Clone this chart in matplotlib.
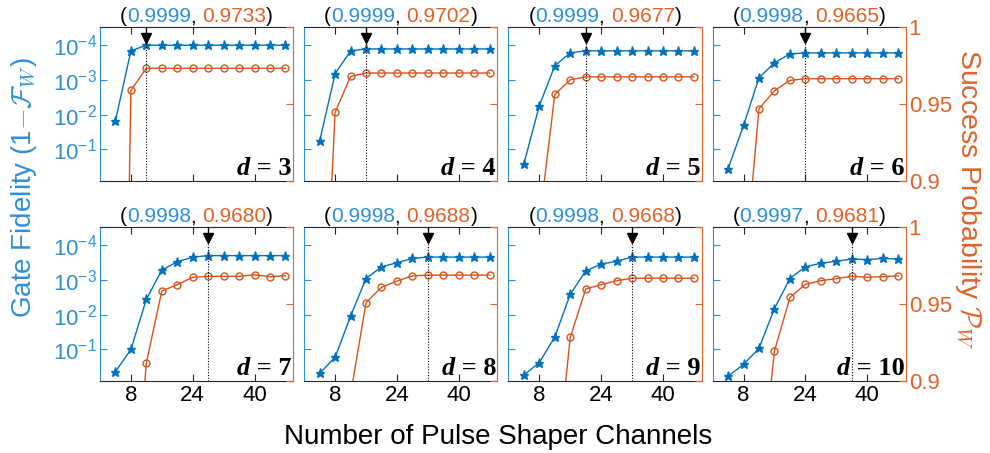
import matplotlib.pyplot as plt
import matplotlib.transforms as mtransforms
from matplotlib.offsetbox import TextArea, HPacker, AnchoredOffsetbox
from matplotlib.ticker import NullLocator

plt.rcParams['font.family'] = ['Liberation Sans', 'DejaVu Sans']
plt.rcParams['mathtext.fontset'] = 'custom'
plt.rcParams['mathtext.rm'] = 'Liberation Sans'
plt.rcParams['mathtext.it'] = 'Liberation Sans:italic'
plt.rcParams['mathtext.bf'] = 'Liberation Sans:bold'

# cores (estilo MATLAB)
azul = '#0072BD'
azul_txt = '#2F8FD5'
laranja = '#D95319'
laranja_txt = '#E0622A'
cinza = '#262626'

# dados
canais = [4, 8, 12, 16, 20, 24, 28, 32, 36, 40, 44, 48]
dims = [3, 4, 5, 6, 7, 8, 9, 10]

infid_d3 = [1.5e-2, 1.45e-4, 1e-4, 1e-4, 1e-4, 1e-4, 1e-4, 1e-4, 1e-4, 1e-4, 1e-4, 1e-4]
infid_d4 = [5.7e-2, 6.6e-4, 1.45e-4, 1.28e-4, 1.28e-4, 1.28e-4, 1.28e-4, 1.28e-4, 1.28e-4, 1.28e-4, 1.28e-4, 1.28e-4]
infid_d5 = [0.26, 5.5e-3, 3.9e-4, 1.66e-4, 1.45e-4, 1.45e-4, 1.45e-4, 1.45e-4, 1.45e-4, 1.45e-4, 1.45e-4, 1.45e-4]
infid_d6 = [0.36, 2.04e-2, 8.6e-4, 3.2e-4, 1.78e-4, 1.66e-4, 1.66e-4, 1.66e-4, 1.66e-4, 1.66e-4, 1.66e-4, 1.66e-4]
infid_d7 = [0.44, 0.1, 3.6e-3, 5.2e-4, 3.0e-4, 2.2e-4, 2.0e-4, 2.0e-4, 2.0e-4, 2.0e-4, 2.0e-4, 2.0e-4]
infid_d8 = [0.49, 0.17, 1.1e-2, 9.1e-4, 4.2e-4, 3.2e-4, 2.4e-4, 2.2e-4, 2.2e-4, 2.2e-4, 2.2e-4, 2.2e-4]
infid_d9 = [0.55, 0.24, 4.4e-2, 2.6e-3, 5.5e-4, 3.5e-4, 2.9e-4, 2.2e-4, 2.2e-4, 2.2e-4, 2.2e-4, 2.2e-4]
infid_d10 = [0.59, 0.27, 9.3e-2, 6.7e-3, 9.1e-4, 4.2e-4, 3.3e-4, 2.9e-4, 2.5e-4, 2.6e-4, 2.4e-4, 2.5e-4]

prob_d3 = [0.37, 0.9589, 0.9733, 0.9733, 0.9733, 0.9733, 0.9733, 0.9733, 0.9733, 0.9733, 0.9733, 0.9733]
prob_d4 = [0.737, 0.9446, 0.968, 0.9702, 0.9702, 0.9702, 0.9702, 0.9702, 0.9702, 0.9702, 0.9702, 0.9702]
prob_d5 = [0.62, 0.873, 0.9563, 0.9658, 0.9677, 0.9677, 0.9677, 0.9677, 0.9677, 0.9677, 0.9677, 0.9677]
prob_d6 = [0.55, 0.834, 0.947, 0.9587, 0.9654, 0.9665, 0.9665, 0.9665, 0.9665, 0.9665, 0.9665, 0.9665]
prob_d7 = [0.45, 0.785, 0.9117, 0.9585, 0.9626, 0.9674, 0.9680, 0.9680, 0.9681, 0.9690, 0.9678, 0.9684]
prob_d8 = [0.40, 0.62, 0.891, 0.9509, 0.9609, 0.965, 0.9683, 0.9688, 0.9688, 0.9688, 0.9688, 0.9688]
prob_d9 = [0.35, 0.55, 0.831, 0.9283, 0.9598, 0.9626, 0.9652, 0.9668, 0.9668, 0.9668, 0.9668, 0.9668]
prob_d10 = [0.30, 0.50, 0.824, 0.9196, 0.9543, 0.9628, 0.9652, 0.9665, 0.9681, 0.9674, 0.9678, 0.9683]

infids = [infid_d3, infid_d4, infid_d5, infid_d6, infid_d7, infid_d8, infid_d9, infid_d10]
probs = [prob_d3, prob_d4, prob_d5, prob_d6, prob_d7, prob_d8, prob_d9, prob_d10]

# canal escolhido (seta) e valores anotados
canal_otimo = [12, 16, 20, 24, 28, 32, 32, 36]
fid_txt = ['0.9999', '0.9999', '0.9999', '0.9998', '0.9998', '0.9998', '0.9998', '0.9997']
prob_txt = ['0.9733', '0.9702', '0.9677', '0.9665', '0.9680', '0.9688', '0.9668', '0.9681']

fig, axs = plt.subplots(2, 4, figsize=(9.9, 4.53), dpi=100)
fig.subplots_adjust(left=0.101, right=0.915, top=0.940, bottom=0.159,
                    wspace=0.057, hspace=0.30)

for i in range(len(dims)):
    lin, col = divmod(i, 4)
    ax = axs[lin, col]
    ax2 = ax.twinx()

    ax.plot(canais, infids[i], '-*', color=azul, lw=1, ms=6.5, mfc=azul)
    ax.set_yscale('log')
    ax.set_ylim(10**-0.09, 10**-4.52)
    ax.set_yticks([1e-1, 1e-2, 1e-3, 1e-4])
    ax.yaxis.set_minor_locator(NullLocator())
    ax.set_xlim(0, 50)
    ax.set_xticks([8, 24, 40])

    ax2.plot(canais, probs[i], '-o', color=laranja, lw=1, ms=5, mfc='none', mew=1)
    ax2.set_ylim(0.9, 1)
    ax2.set_yticks([0.9, 0.95, 1])
    ax2.set_yticklabels(['0.9', '0.95', '1'])

    # eixos
    for s in ['top', 'bottom']:
        ax.spines[s].set_color(cinza)
        ax.spines[s].set_linewidth(0.8)
    ax.spines['left'].set_color(azul_txt)
    ax.spines['right'].set_visible(False)
    for s in ['left', 'top', 'bottom']:
        ax2.spines[s].set_visible(False)
    ax2.spines['right'].set_color(laranja_txt)
    ax.spines['left'].set_linewidth(0.8)
    ax2.spines['right'].set_linewidth(0.8)

    ax.tick_params(axis='x', direction='in', top=True, length=5, width=0.8,
                   color=cinza, labelsize=16, labelbottom=(lin == 1), pad=3)
    ax.tick_params(axis='y', direction='in', length=5, width=0.8, colors=azul_txt,
                   labelsize=16, labelleft=(col == 0), pad=2)
    ax2.tick_params(axis='y', direction='in', length=5, width=0.8, colors=laranja_txt,
                    labelsize=16, labelright=(col == 3), pad=2)

    # seta e linha pontilhada no canal escolhido
    trans = mtransforms.blended_transform_factory(ax2.transData, ax2.transAxes)
    xa = canal_otimo[i]
    ax2.plot([xa, xa], [0.93, 1.0], color='k', lw=1, transform=trans, clip_on=False)
    ax2.plot([xa], [0.929], marker='v', ms=7.5, color='k', transform=trans, clip_on=False)
    ax2.plot([xa, xa], [0, 0.896], color='k', lw=0.8, ls=(0, (1, 1.5)), transform=trans)

    # titulo colorido
    partes = [('(', 'k'), (fid_txt[i], azul_txt), (', ', 'k'), (prob_txt[i], laranja_txt), (')', 'k')]
    caixas = [TextArea(t, textprops=dict(color=c, fontsize=15)) for t, c in partes]
    titulo = AnchoredOffsetbox(loc='lower center', child=HPacker(children=caixas, pad=0, sep=0),
                               pad=0, borderpad=0.05, frameon=False,
                               bbox_to_anchor=(0.5, 1.0), bbox_transform=ax.transAxes)
    ax2.add_artist(titulo)

    # rotulo d = n
    fonte = dict(family='Liberation Serif', weight='bold', fontsize=19, color='k')
    rot = HPacker(children=[TextArea('d', textprops=dict(style='italic', **fonte)),
                            TextArea(' = %d' % dims[i], textprops=fonte)], pad=0, sep=0)
    caixa_d = AnchoredOffsetbox(loc='lower right', child=rot, pad=0, borderpad=0.1,
                                frameon=False, bbox_to_anchor=(1.0, 0.0),
                                bbox_transform=ax.transAxes)
    ax2.add_artist(caixa_d)

fig.text(0.024, 0.585, r'Gate Fidelity (1$-\mathcal{F}_W$)', rotation=90, color=azul_txt,
         fontsize=20, ha='center', va='center', math_fontfamily='cm')
fig.text(0.978, 0.56, r'Success Probability $\mathcal{P}_W$', rotation=270, color=laranja_txt,
         fontsize=20.5, ha='center', va='center', math_fontfamily='cm')
fig.text(0.503, 0.035, 'Number of Pulse Shaper Channels', fontsize=20, ha='center', va='center')

plt.savefig('out.png', dpi=100)
